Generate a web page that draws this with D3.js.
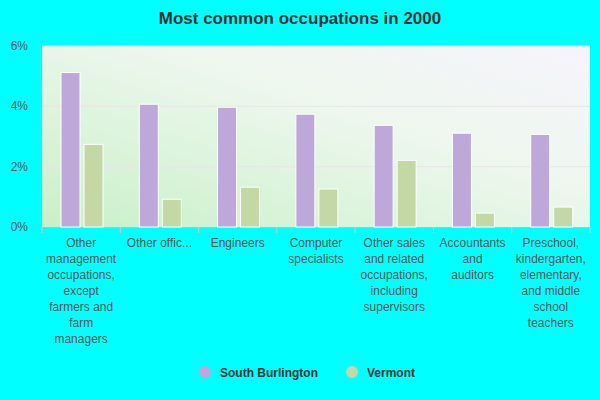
<!DOCTYPE html>
<html><head><meta charset="utf-8">
<script src="https://cdn.jsdelivr.net/npm/d3@7/dist/d3.min.js"></script>
<style>body{margin:0;background:#00ffff}svg{display:block;font-family:"Liberation Sans",Arial,sans-serif}</style>
</head><body><svg id="c" width="600" height="400"></svg>
<script>
// chart data
const categories = [
  ["Other", "management", "occupations,", "except", "farmers and", "farm", "managers"],
  ["Other offic..."],
  ["Engineers"],
  ["Computer", "specialists"],
  ["Other sales", "and related", "occupations,", "including", "supervisors"],
  ["Accountants", "and", "auditors"],
  ["Preschool,", "kindergarten,", "elementary,", "and middle", "school", "teachers"]
];
const southBurlington = [5.12, 4.07, 3.97, 3.74, 3.37, 3.11, 3.07];
const vermont = [2.74, 0.92, 1.32, 1.26, 2.21, 0.46, 0.66];
const yTicks = [0, 2, 4, 6];
const seriesNames = ["South Burlington", "Vermont"];
const colors = ["#bea8d9", "#c4d8a6"];

const svg = d3.select("#c");
const L = 42, R = 590, T = 46, B = 227;

svg.append("text").attr("x", 300).attr("y", 24).attr("text-anchor", "middle")
  .attr("font-size", 17).attr("font-weight", "bold").attr("fill", "#333")
  .text("Most common occupations in 2000");

// plot background gradient
const defs = svg.append("defs");
const gr = defs.append("linearGradient").attr("id", "bg")
  .attr("x1", "0").attr("y1", "1").attr("x2", "1").attr("y2", "0");
gr.append("stop").attr("offset", "0").attr("stop-color", "#c8f0c8");
gr.append("stop").attr("offset", "0.6").attr("stop-color", "#eef7ee");
gr.append("stop").attr("offset", "1").attr("stop-color", "#f6f4fc");
svg.append("rect").attr("x", L).attr("y", T).attr("width", R - L).attr("height", B - T).attr("fill", "url(#bg)");

const x = d3.scaleBand().domain(d3.range(categories.length)).range([L, R]);
const y = d3.scaleLinear().domain([0, 6]).range([B, T]);

// grid
svg.append("g").selectAll("line").data(yTicks.slice(1)).join("line")
  .attr("x1", L).attr("x2", R).attr("y1", d => y(d)).attr("y2", d => y(d))
  .attr("stroke", "#e6e6e6").attr("stroke-width", 1);

svg.append("g").selectAll("text").data(yTicks).join("text")
  .attr("x", L - 14).attr("y", d => y(d) + 4).attr("text-anchor", "end")
  .attr("font-size", 12).attr("fill", "#555").text(d => d + "%");

svg.append("line").attr("x1", L).attr("x2", R).attr("y1", B + 0.5).attr("y2", B + 0.5).attr("stroke", "#bbb");

const bw = 19;
[southBurlington, vermont].forEach((vals, s) => {
  svg.append("g").selectAll("rect").data(vals).join("rect")
    .attr("x", (d, i) => x(i) + 19 + s * 23)
    .attr("y", d => y(d))
    .attr("width", bw)
    .attr("height", d => B - y(d))
    .attr("fill", colors[s]).attr("stroke", "#fff").attr("stroke-width", 1);
});

// category labels
const lab = svg.append("g");
categories.forEach((lines, i) => {
  const t = lab.append("text").attr("text-anchor", "middle").attr("font-size", 12).attr("fill", "#555");
  lines.forEach((ln, k) => {
    t.append("tspan").attr("x", x(i) + x.bandwidth() / 2).attr("y", 247 + k * 16).text(ln);
  });
});
// tick separators
svg.append("g").selectAll("line").data(d3.range(categories.length + 1)).join("line")
  .attr("x1", i => i < categories.length ? x(i) : R).attr("x2", i => i < categories.length ? x(i) : R)
  .attr("y1", B).attr("y2", B + 6).attr("stroke", "#ccc");

// legend
const lx = [205, 352];
seriesNames.forEach((n, s) => {
  svg.append("circle").attr("cx", lx[s]).attr("cy", 372).attr("r", 6).attr("fill", colors[s]);
  svg.append("text").attr("x", lx[s] + 15).attr("y", 376.5).attr("font-size", 12)
    .attr("font-weight", "bold").attr("fill", "#333").text(n);
});
</script></body></html>
